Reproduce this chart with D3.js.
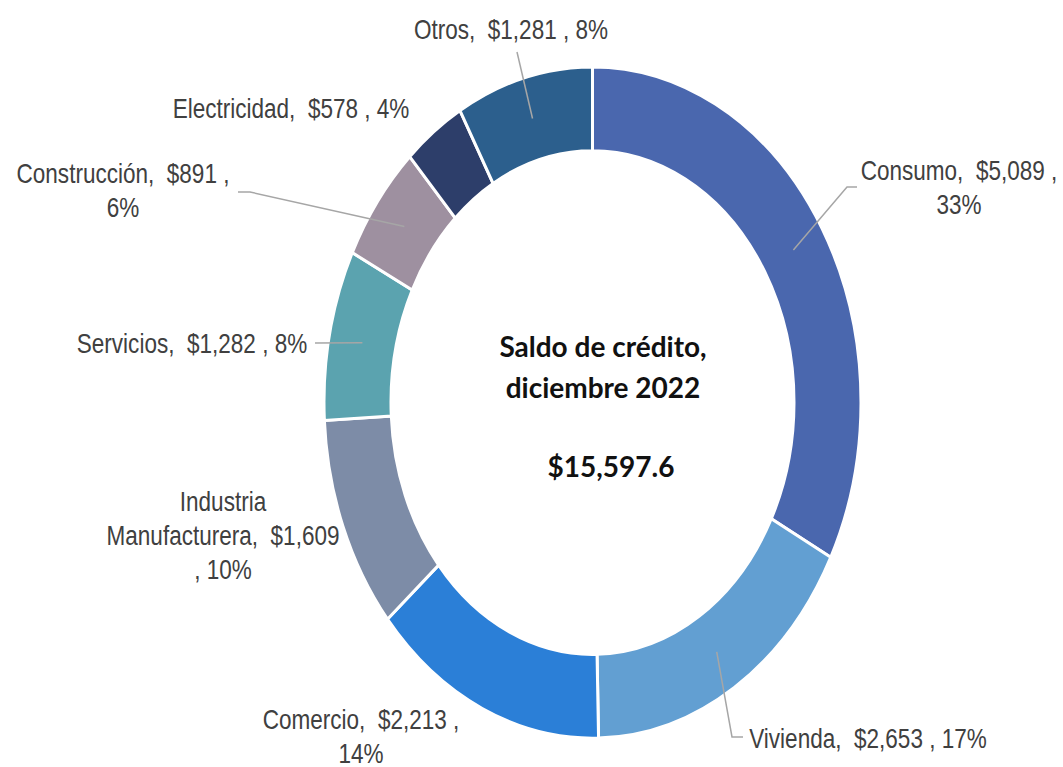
<!DOCTYPE html>
<html>
<head>
<meta charset="utf-8">
<script src="https://cdn.jsdelivr.net/npm/d3@7"></script>
<style>
  html, body { margin: 0; padding: 0; background: #fff; }
  #vis { width: 1063px; height: 767px; }
  .lbl { font-family: 'Liberation Sans', Arial, sans-serif; font-size: 27.5px; fill: #404040; white-space: pre; }
  .center { font-family: Lato, 'Open Sans', sans-serif; font-weight: 700; font-size: 28px; fill: #111; }
</style>
</head>
<body>
<div id="vis"></div>
<script>
// data
var categories = ['Consumo', 'Vivienda', 'Comercio', 'Industria Manufacturera', 'Servicios', 'Construcción', 'Electricidad', 'Otros'];
var values = [5089, 2653, 2213, 1609, 1282, 891, 578, 1281];
var colors = ['#4a67ae', '#629fd2', '#2b7fd7', '#7d8ca7', '#5ba3af', '#9e90a0', '#2d3e6a', '#2c5f8d'];
var titleLines = ['Saldo de crédito,', 'diciembre 2022'];
var total = 15597.6;

// label placement (x = centre of text, y = first baseline), optional leader elbow/end
var labelLayout = [
    { x: 959, y: 180, wrap: 'pct', leader: [[847, 187], [857, 187]] },
    { x: 868, y: 748, wrap: 'one', leader: [[732, 737], [743, 737]] },
    { x: 361, y: 729, wrap: 'pct' },
    { x: 223, y: 511, wrap: 'name' },
    { x: 192, y: 353, wrap: 'one', leader: [[315, 343]] },
    { x: 123, y: 183, wrap: 'pct', leader: [[250, 192], [238, 192]] },
    { x: 291, y: 118, wrap: 'one' },
    { x: 511, y: 39, wrap: 'one', leader: [[517, 52]] }
];

var width = document.getElementById('vis').clientWidth;
var height = document.getElementById('vis').clientHeight;

var cx = 592.5, cy = 402.5;
var stretch = 1.25;
var outerR = 268.5, innerR = 201.5;
var lineH = 34;
var narrow = 0.82; // condensed look for labels

var svg = d3.select('#vis')
    .append('svg')
    .attr('width', width)
    .attr('height', height);

var sum = d3.sum(values);
var moneyFmt = d3.format(',');

var items = categories.map(function(c, i) {
    return { name: c, value: values[i], color: colors[i], layout: labelLayout[i] };
});

var pie = d3.pie()
    .sort(null)
    .value(function(d) { return d.value; });

var arc = d3.arc()
    .innerRadius(innerR)
    .outerRadius(outerR);

var midArc = d3.arc()
    .innerRadius((innerR + outerR) / 2)
    .outerRadius((innerR + outerR) / 2);

var arcs = pie(items);

var ring = svg.append('g')
    .attr('transform', 'translate(' + cx + ',' + cy + ') scale(1,' + stretch + ')');

ring.selectAll('path')
    .data(arcs)
    .enter()
    .append('path')
    .attr('d', arc)
    .attr('fill', function(d) { return d.data.color; })
    .attr('stroke', '#fff')
    .attr('stroke-width', 3)
    .attr('vector-effect', 'non-scaling-stroke');

// leader lines
arcs.forEach(function(d) {
    var lay = d.data.layout;
    if (!lay.leader) return;
    var c = midArc.centroid(d);
    var pts = [[cx + c[0], cy + c[1] * stretch]].concat(lay.leader);
    svg.append('path')
        .attr('d', d3.line()(pts))
        .attr('fill', 'none')
        .attr('stroke', '#a6a6a6')
        .attr('stroke-width', 1.5);
});

function labelLines(d) {
    var val = '$' + moneyFmt(d.value);
    var pct = Math.round(d.value / sum * 100) + '%';
    var w = d.layout.wrap;
    if (w === 'pct') return [d.name + ',  ' + val + ' ,', pct];
    if (w === 'name') {
        var words = d.name.split(' ');
        return [words[0], words.slice(1).join(' ') + ',  ' + val, ', ' + pct];
    }
    return [d.name + ',  ' + val + ' , ' + pct];
}

items.forEach(function(d) {
    var t = svg.append('text')
        .attr('class', 'lbl')
        .attr('text-anchor', 'middle')
        .attr('transform', 'translate(' + d.layout.x + ',' + d.layout.y + ') scale(' + narrow + ',1)');
    labelLines(d).forEach(function(s, j) {
        t.append('tspan')
            .attr('x', 0)
            .attr('y', j * lineH)
            .text(s);
    });
});

// centre title
var title = svg.append('text')
    .attr('class', 'center')
    .attr('text-anchor', 'middle');
titleLines.forEach(function(s, j) {
    title.append('tspan')
        .attr('x', 603)
        .attr('y', 357 + j * 41)
        .text(s);
});
svg.append('text')
    .attr('class', 'center')
    .attr('text-anchor', 'middle')
    .attr('x', 611)
    .attr('y', 477)
    .text('$' + d3.format(',.1f')(total));
</script>
</body>
</html>
